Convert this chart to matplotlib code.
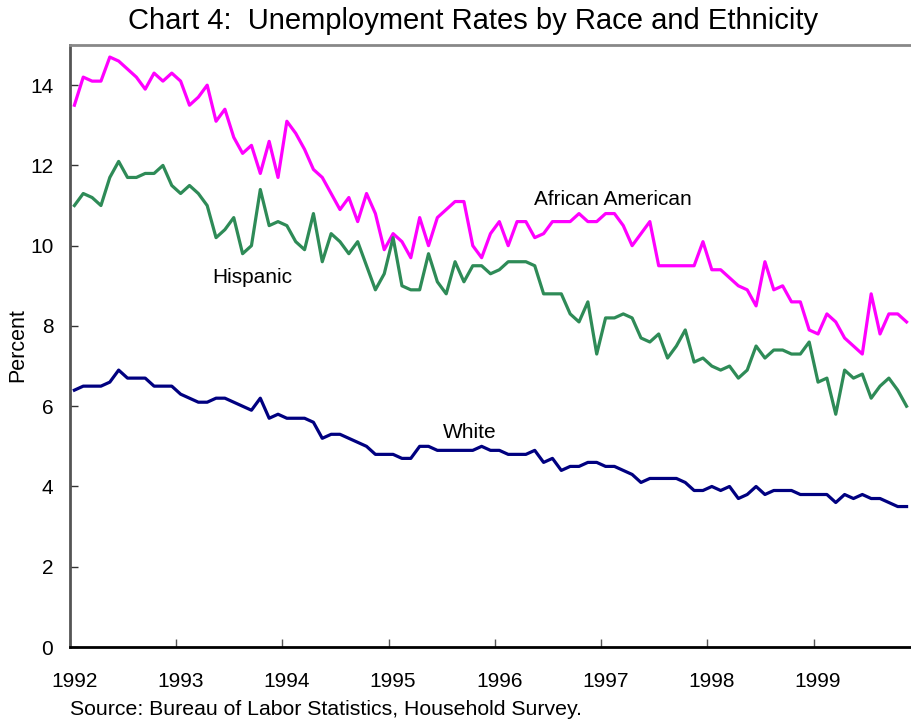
"""Chart 4: Unemployment rates by race and ethnicity, monthly 1992-1999."""

import matplotlib
matplotlib.use("Agg")
import matplotlib.pyplot as plt
import numpy as np

plt.rcParams["font.family"] = ["Liberation Sans", "DejaVu Sans"]

# monthly values, Jan 1992 .. Nov 1999 (percent)
african_american = [
    13.5, 14.2, 14.1, 14.1, 14.7, 14.6, 14.4, 14.2, 13.9, 14.3, 14.1, 14.3,
    14.1, 13.5, 13.7, 14.0, 13.1, 13.4, 12.7, 12.3, 12.5, 11.8, 12.6, 11.7,
    13.1, 12.8, 12.4, 11.9, 11.7, 11.3, 10.9, 11.2, 10.6, 11.3, 10.8, 9.9,
    10.3, 10.1, 9.7, 10.7, 10.0, 10.7, 10.9, 11.1, 11.1, 10.0, 9.7, 10.3,
    10.6, 10.0, 10.6, 10.6, 10.2, 10.3, 10.6, 10.6, 10.6, 10.8, 10.6, 10.6,
    10.8, 10.8, 10.5, 10.0, 10.3, 10.6, 9.5, 9.5, 9.5, 9.5, 9.5, 10.1,
    9.4, 9.4, 9.2, 9.0, 8.9, 8.5, 9.6, 8.9, 9.0, 8.6, 8.6, 7.9,
    7.8, 8.3, 8.1, 7.7, 7.5, 7.3, 8.8, 7.8, 8.3, 8.3, 8.1,
]
hispanic = [
    11.0, 11.3, 11.2, 11.0, 11.7, 12.1, 11.7, 11.7, 11.8, 11.8, 12.0, 11.5,
    11.3, 11.5, 11.3, 11.0, 10.2, 10.4, 10.7, 9.8, 10.0, 11.4, 10.5, 10.6,
    10.5, 10.1, 9.9, 10.8, 9.6, 10.3, 10.1, 9.8, 10.1, 9.5, 8.9, 9.3,
    10.2, 9.0, 8.9, 8.9, 9.8, 9.1, 8.8, 9.6, 9.1, 9.5, 9.5, 9.3,
    9.4, 9.6, 9.6, 9.6, 9.5, 8.8, 8.8, 8.8, 8.3, 8.1, 8.6, 7.3,
    8.2, 8.2, 8.3, 8.2, 7.7, 7.6, 7.8, 7.2, 7.5, 7.9, 7.1, 7.2,
    7.0, 6.9, 7.0, 6.7, 6.9, 7.5, 7.2, 7.4, 7.4, 7.3, 7.3, 7.6,
    6.6, 6.7, 5.8, 6.9, 6.7, 6.8, 6.2, 6.5, 6.7, 6.4, 6.0,
]
white = [
    6.4, 6.5, 6.5, 6.5, 6.6, 6.9, 6.7, 6.7, 6.7, 6.5, 6.5, 6.5,
    6.3, 6.2, 6.1, 6.1, 6.2, 6.2, 6.1, 6.0, 5.9, 6.2, 5.7, 5.8,
    5.7, 5.7, 5.7, 5.6, 5.2, 5.3, 5.3, 5.2, 5.1, 5.0, 4.8, 4.8,
    4.8, 4.7, 4.7, 5.0, 5.0, 4.9, 4.9, 4.9, 4.9, 4.9, 5.0, 4.9,
    4.9, 4.8, 4.8, 4.8, 4.9, 4.6, 4.7, 4.4, 4.5, 4.5, 4.6, 4.6,
    4.5, 4.5, 4.4, 4.3, 4.1, 4.2, 4.2, 4.2, 4.2, 4.1, 3.9, 3.9,
    4.0, 3.9, 4.0, 3.7, 3.8, 4.0, 3.8, 3.9, 3.9, 3.9, 3.8, 3.8,
    3.8, 3.8, 3.6, 3.8, 3.7, 3.8, 3.7, 3.7, 3.6, 3.5, 3.5,
]
years = ["1992", "1993", "1994", "1995", "1996", "1997", "1998", "1999"]
yticks = [0, 2, 4, 6, 8, 10, 12, 14]

months = np.arange(len(white))

fig = plt.figure(figsize=(9.11, 7.26), dpi=100)
ax = fig.add_axes([0.0768, 0.1088, 0.9232, 0.8292])

ax.plot(months, african_american, color="#ff00ff", lw=2.3)
ax.plot(months, hispanic, color="#2e8b57", lw=2.3)
ax.plot(months, white, color="#000080", lw=2.3)

ax.text(60.8, 11.15, "African American", fontsize=15, ha="center", va="center")
ax.text(20.1, 9.2, "Hispanic", fontsize=15, ha="center", va="center")
ax.text(44.7, 5.35, "White", fontsize=15, ha="center", va="center")

ax.set_xlim(-0.5, len(white) - 0.5)
ax.set_ylim(0, 15)

# year labels sit under January, tick marks sit on year boundaries
ax.set_xticks(np.arange(len(years)) * 12)
ax.set_xticklabels(years, fontsize=15)
ax.tick_params(axis="x", which="major", length=0, pad=18)
ax.set_xticks(np.arange(len(years)) * 12 - 0.5, minor=True)
ax.tick_params(axis="x", which="minor", direction="in", length=6, width=1, color="#555555")

ax.set_yticks(yticks)
ax.set_yticklabels([str(v) for v in yticks], fontsize=15)
ax.tick_params(axis="y", direction="in", length=6, width=1, pad=12, color="#333333")

ax.spines["right"].set_visible(False)
ax.spines["top"].set_color("#888888")
ax.spines["top"].set_linewidth(2)
ax.spines["left"].set_color("#555555")
ax.spines["left"].set_linewidth(2)
ax.spines["bottom"].set_color("black")
ax.spines["bottom"].set_linewidth(2)

fig.text(0.019, 0.525, "Percent", fontsize=15.5, rotation=90, ha="center", va="center")
fig.text(0.519, 0.971, "Chart 4:  Unemployment Rates by Race and Ethnicity",
         fontsize=21, ha="center", va="center")
fig.text(0.0768, 0.0234, "Source: Bureau of Labor Statistics, Household Survey.",
         fontsize=15.3, ha="left", va="center")

fig.savefig("out.png", dpi=100)
plt.close(fig)
